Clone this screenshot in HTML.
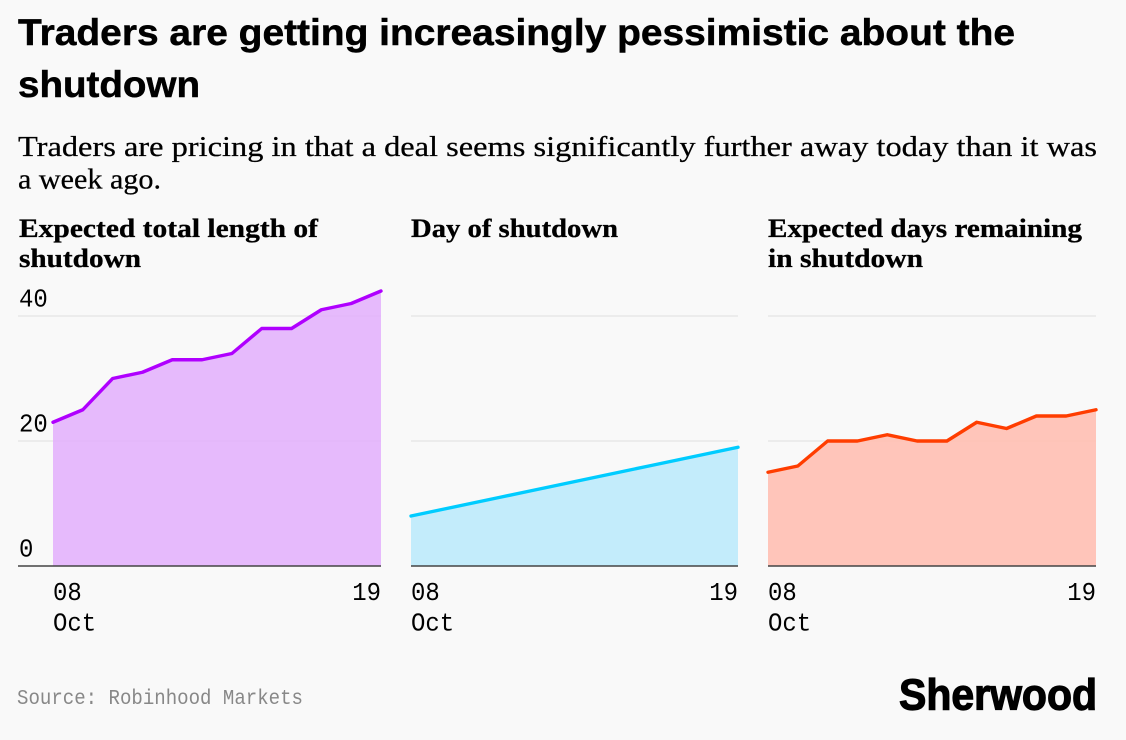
<!DOCTYPE html>
<html lang="en">
<head>
<meta charset="utf-8">
<title>Traders are getting increasingly pessimistic about the shutdown</title>
<style>
html,body{margin:0;padding:0;background:#f9f9f9;width:1126px;height:740px;overflow:hidden}
svg{display:block}
.title{font:700 37px "Liberation Sans",sans-serif;fill:#000;stroke:#000;stroke-width:.5px}
.sub{font:400 28px "Liberation Serif",serif;fill:#000;stroke:#000;stroke-width:.25px}
.ptitle{font:700 26px "Liberation Serif",serif;fill:#000;stroke:#000;stroke-width:.3px}
.tick{font:400 26px "Liberation Mono",monospace;fill:#000}
.source{font:400 21px "Liberation Mono",monospace;fill:#888}
.logo{font:700 44px "Liberation Sans",sans-serif;fill:#000;stroke:#000;stroke-width:1.2px}
</style>
</head>
<body>
<svg id="chart" width="1126" height="740" viewBox="0 0 1126 740" xmlns="http://www.w3.org/2000/svg">
  <rect width="1126" height="740" fill="#f9f9f9"/>
  <text class="title" x="18" y="45" textLength="997" lengthAdjust="spacingAndGlyphs">Traders are getting increasingly pessimistic about the</text>
  <text class="title" x="18" y="97" textLength="182" lengthAdjust="spacingAndGlyphs">shutdown</text>
  <text class="sub" x="18" y="156" textLength="1079" lengthAdjust="spacingAndGlyphs">Traders are pricing in that a deal seems significantly further away today than it was</text>
  <text class="sub" x="18" y="188.5" textLength="143" lengthAdjust="spacingAndGlyphs">a week ago.</text>

  <text class="ptitle" x="19" y="237" textLength="299" lengthAdjust="spacingAndGlyphs">Expected total length of</text>
  <text class="ptitle" x="19" y="267" textLength="122" lengthAdjust="spacingAndGlyphs">shutdown</text>
  <text class="ptitle" x="411" y="237" textLength="207" lengthAdjust="spacingAndGlyphs">Day of shutdown</text>
  <text class="ptitle" x="768" y="237" textLength="314" lengthAdjust="spacingAndGlyphs">Expected days remaining</text>
  <text class="ptitle" x="768" y="267" textLength="155" lengthAdjust="spacingAndGlyphs">in shutdown</text>

  <g id="plots"></g>

  <text class="source" x="17" y="704" textLength="286" lengthAdjust="spacingAndGlyphs">Source: Robinhood Markets</text>
  <text class="logo" x="899" y="709.5" textLength="198" lengthAdjust="spacingAndGlyphs">Sherwood</text>
</svg>
<script>
var days = ['08','09','10','11','12','13','14','15','16','17','18','19'];
var totalLength = [23,25,30,31,33,33,34,38,38,41,42,44];
var dayOfShutdown = [8,9,10,11,12,13,14,15,16,17,18,19];
var daysRemaining = [15,16,20,20,21,20,20,23,22,24,24,25];
var yTicks = [0,20,40];
var monthLabel = 'Oct';

var NS = 'http://www.w3.org/2000/svg';
var root = document.getElementById('plots');
var Y0 = 566, PER_UNIT = 6.25;
var CHAR_W = 14.4;
function yScale(v){ return Y0 - v * PER_UNIT; }
function xScale(i, left, right){ return left + (right - left) * i / (days.length - 1); }
function make(tag, attrs, parent){
  var el = document.createElementNS(NS, tag);
  for (var k in attrs) el.setAttribute(k, attrs[k]);
  parent.appendChild(el);
  return el;
}
function fit(str){ return {textLength:(str.length * CHAR_W).toFixed(1), lengthAdjust:'spacingAndGlyphs'}; }

function drawPanel(values, color, fillColor, left, right, axisLeft, showY){
  var g = make('g', {}, root);
  
  

  yTicks.forEach(function(t){
    if (t === 0) return;
    var grid = make('line', {x1:axisLeft, x2:right, y1:yScale(t), y2:yScale(t), stroke:'#e8e8e8', 'stroke-width':1.5}, g);
    
    
  });

  var pts = values.map(function(v, i){ return xScale(i, left, right).toFixed(2) + ',' + yScale(v).toFixed(2); });
  var area = make('polygon', {
    points: left + ',' + Y0 + ' ' + pts.join(' ') + ' ' + right + ',' + Y0,
    fill: fillColor, 'fill-opacity': 0.88
  }, g);
  
  

  var line = make('polyline', {
    points: pts.join(' '), fill:'none', stroke:color, 'stroke-width':3.4, 'stroke-linejoin':'round', 'stroke-linecap':'round'
  }, g);
  
  

  var axis = make('line', {x1:axisLeft, x2:right, y1:Y0, y2:Y0, stroke:'#444', 'stroke-width':1.6}, g);
  
  

  if (showY) {
    yTicks.forEach(function(t){
      var s = String(t);
      var f = fit(s);
      var lab = make('text', {x:19, y:yScale(t) - 9.5, 'class':'tick', textLength:f.textLength, lengthAdjust:f.lengthAdjust}, g);
      
      
      lab.textContent = s;
    });
  }

  var f1 = fit(days[0]);
  var first = make('text', {x:left, y:600, 'class':'tick', textLength:f1.textLength, lengthAdjust:f1.lengthAdjust}, g);
  
  
  first.textContent = days[0];

  var lastStr = days[days.length - 1];
  var f2 = fit(lastStr);
  var last = make('text', {x:right - lastStr.length * CHAR_W, y:600, 'class':'tick', textLength:f2.textLength, lengthAdjust:f2.lengthAdjust}, g);
  
  
  last.textContent = lastStr;

  var f3 = fit(monthLabel);
  var month = make('text', {x:left, y:630.5, 'class':'tick', textLength:f3.textLength, lengthAdjust:f3.lengthAdjust}, g);
  
  
  month.textContent = monthLabel;
}

drawPanel(totalLength, '#b000ff', '#e3b0fc', 53, 381, 18, true);
drawPanel(dayOfShutdown, '#00ccff', '#bbe9fa', 411, 738, 411, false);
drawPanel(daysRemaining, '#ff3d00', '#ffbdb0', 768, 1096, 768, false);
</script>
</body>
</html>
